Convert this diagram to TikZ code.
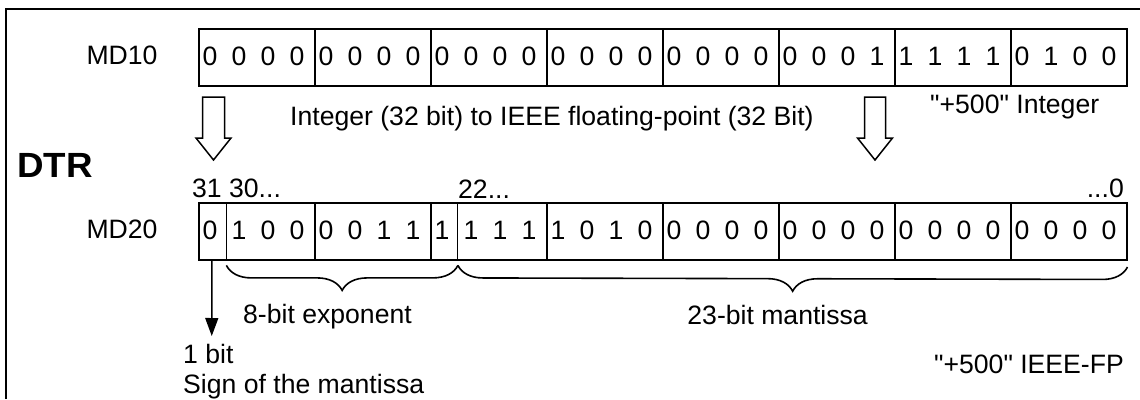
\documentclass[tikz,border=0pt]{standalone}
\usepackage{fontspec}
\setmainfont{Liberation Sans}[Ligatures=TeXOff]
\usetikzlibrary{decorations.pathreplacing,arrows.meta}
\begin{document}
\begin{tikzpicture}[x=1pt,y=-1pt,
  lbl/.style={inner sep=0pt,font=\fontsize{26.6}{30}\selectfont},
  bitdigit/.style={inner sep=0pt,font=\fontsize{26.6}{30}\selectfont},
  grp/.style={draw,line width=2pt,minimum width=116pt,minimum height=57pt,inner sep=0pt,anchor=north west},
  cell/.style={minimum height=57pt,inner sep=0pt,anchor=north west},
  thindiv/.style={line width=1pt},
  hollow/.style={draw,line width=1.5pt,fill=white},
  bracestyle/.style={decorate,decoration={brace,mirror,amplitude=25pt},line width=1.6pt},
  framestyle/.style={line width=2pt}]
\useasboundingbox (0,0) rectangle (1140,399);
% frame
\coordinate (ftl) at (6,9);
\coordinate (ftr) at (1140,9);
\coordinate (fbl) at (6,399);
\draw[framestyle] (fbl) -- (ftl) -- (ftr);
% labels
\node[lbl,anchor=base] (md10) at (122,64) {MD10};
\node[lbl,anchor=base] (md20) at (122,238) {MD20};
\node[inner sep=0pt,anchor=base west,font=\fontsize{35}{38}\selectfont\bfseries] (dtr) at (17,177) {\scalebox{1.05}[1]{DTR}};
% MD10 row
\foreach \g/\p/\q/\r/\s in {0/0/0/0/0,1/0/0/0/0,2/0/0/0/0,3/0/0/0/0,4/0/0/0/0,5/0/0/0/1,6/1/1/1/1,7/0/1/0/0}{
  \node[grp] (a\g) at (197.5+116*\g,28) {};
  \node[bitdigit] (a\g-0) at (197.5+116*\g+12.5,56.5) {\p};
  \node[bitdigit] (a\g-1) at (197.5+116*\g+41.5,56.5) {\q};
  \node[bitdigit] (a\g-2) at (197.5+116*\g+70.5,56.5) {\r};
  \node[bitdigit] (a\g-3) at (197.5+116*\g+99.5,56.5) {\s};
}
% MD20 row
\foreach \g/\p/\q/\r/\s in {0/0/1/0/0,1/0/0/1/1,2/1/1/1/1,3/1/0/1/0,4/0/0/0/0,5/0/0/0/0,6/0/0/0/0,7/0/0/0/0}{
  \node[grp] (b\g) at (197.5+116*\g,202) {};
  \node[bitdigit] (b\g-0) at (197.5+116*\g+12.5,230.5) {\p};
  \node[bitdigit] (b\g-1) at (197.5+116*\g+41.5,230.5) {\q};
  \node[bitdigit] (b\g-2) at (197.5+116*\g+70.5,230.5) {\r};
  \node[bitdigit] (b\g-3) at (197.5+116*\g+99.5,230.5) {\s};
}
\node[cell,minimum width=28.5pt] (sgn) at (197.5,202) {};
\node[cell,minimum width=28pt] (hid) at (429.5,202) {};
\draw[thindiv] (sgn.north east) -- (sgn.south east);
\draw[thindiv] (hid.north east) -- (hid.south east);
% bit position labels
\node[lbl,anchor=base west] (p31) at (192,197) {31 30...};
\node[lbl,anchor=base west] (p22) at (458,198) {22...};
\node[lbl,anchor=base east] (p0) at (1124,197) {...0};
% conversion text
\node[lbl,anchor=base west] (conv) at (290,125) {Integer (32 bit) to IEEE floating-point (32 Bit)};
\node[lbl,anchor=base west] (intlbl) at (930,113) {"+500" Integer};
% hollow arrows
\draw[hollow] (202.5,97) -- (224.5,97) -- (224.5,138) -- (231,138) -- (213.5,160) -- (196,138) -- (202.5,138) -- cycle;
\draw[hollow] (864.5,97) -- (885.5,97) -- (885.5,138) -- (892.5,138) -- (875,160) -- (857.5,138) -- (864.5,138) -- cycle;
% braces
\draw[bracestyle] ([yshift=-6pt]sgn.south east) -- ([yshift=-6pt]hid.south east);
\draw[bracestyle] ([yshift=-6pt]hid.south east) -- ([yshift=-6pt]b7.south east);
\node[lbl,anchor=base west] (explbl) at (243,323) {8-bit exponent};
\node[lbl,anchor=base east] (manlbl) at (868,324) {23-bit mantissa};
% sign arrow
\coordinate (sgnend) at (211.75,336);
\draw[line width=1.4pt,-{Triangle[length=18pt,width=13pt]}] (sgn.south) -- (sgnend);
\node[lbl,anchor=base west] (onebit) at (183,363) {1 bit};
\node[lbl,anchor=base west] (signlbl) at (183,393) {Sign of the mantissa};
\node[lbl,anchor=base east] (fplbl) at (1124,373) {"+500" IEEE-FP};
\end{tikzpicture}
\end{document}
